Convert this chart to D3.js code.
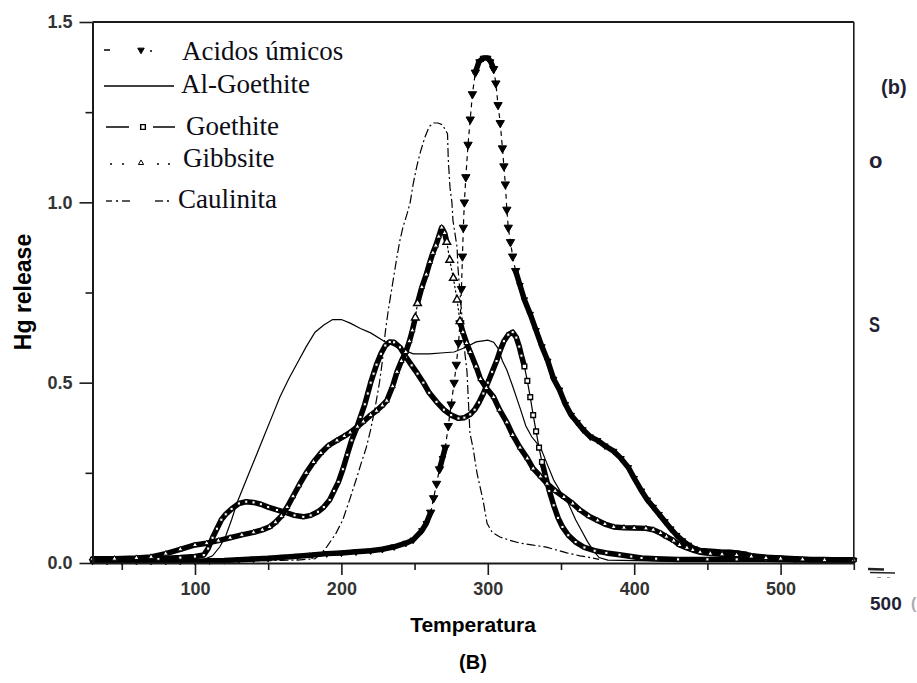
<!DOCTYPE html>
<html>
<head>
<meta charset="utf-8">
<script src="https://cdn.jsdelivr.net/npm/d3@7"></script>
<style>
  html, body { margin: 0; padding: 0; background: #ffffff; }
  svg { display: block; }
</style>
</head>
<body>
<svg id="chart" width="917" height="683"></svg>
<script>
// ---- Hg release vs temperature, one pair of arrays per sample ----
const acidosT = [30,40,50,60,70,80,90,100,110,120,130,140,150,160,170,180,190,200,210,220,228,236,244,249,255,258,261,263,265,267,269,271,273,275,277,278.5,280,281,282,282.7,283.3,284,285,286.5,288,289.5,291.5,294,297,300,302,304,305.5,307,308.5,310,311,312,313,314,315.5,317,319,322,325,329,333,337,341,345,349,353,357,361,365,370,375,380,386,391,396,400,405,409,413,417,421,425,429,433,437,441,445,450,455,460,465,470,475,480,490,500,510,520,530,540,550];
const acidosV = [0.005,0.005,0.005,0.005,0.005,0.005,0.005,0.005,0.006,0.007,0.009,0.011,0.013,0.016,0.019,0.022,0.026,0.028,0.031,0.034,0.038,0.045,0.055,0.064,0.09,0.11,0.14,0.18,0.22,0.26,0.29,0.32,0.38,0.44,0.5,0.55,0.61,0.665,0.76,0.85,0.93,1.0,1.07,1.16,1.23,1.3,1.36,1.39,1.40,1.40,1.39,1.37,1.33,1.27,1.22,1.15,1.10,1.05,0.98,0.93,0.89,0.85,0.81,0.77,0.73,0.69,0.645,0.60,0.56,0.51,0.48,0.44,0.41,0.39,0.37,0.35,0.34,0.325,0.31,0.29,0.265,0.235,0.20,0.175,0.155,0.135,0.115,0.095,0.077,0.062,0.05,0.04,0.035,0.033,0.032,0.03,0.03,0.028,0.025,0.02,0.016,0.014,0.012,0.01,0.01,0.008,0.008];

const alGoethiteT = [30,60,90,105,112,117,121,125,129,133,137,141,147,153,158,164,170,176,182,188,194,200,206,213,220,230,240,249,260,270,277,285,292,300,304,307,310,313,317,322,326,330,336,341,345,350,355,360,364,368,372,376,382,420,550];
const alGoethiteV = [0.004,0.004,0.005,0.008,0.02,0.045,0.075,0.12,0.17,0.21,0.25,0.29,0.35,0.41,0.46,0.51,0.555,0.6,0.64,0.66,0.675,0.675,0.665,0.65,0.638,0.613,0.595,0.58,0.58,0.583,0.585,0.598,0.613,0.618,0.612,0.595,0.56,0.535,0.49,0.43,0.38,0.35,0.32,0.27,0.23,0.195,0.165,0.12,0.09,0.06,0.035,0.015,0.008,0.005,0.005];

const goethiteT = [30,45,60,75,90,100,106,109,112,115,118,121,125,130,135,140,145,150,156,162,168,174,179,184,188,192,195,198,201,204,207,210,213,216,218,220,222,224,227,230,233,236,240,244,248,252,256,260,265,270,275,280,284,288,291,294,297,300,303,306,308.5,311,314,317,319.5,321.5,323,325,327,329,331,333,335,337,339.5,342,345,348,351,355,360,366,373,381,390,398,405,415,430,450,470,490,510,530,550];
const goethiteV = [0.01,0.01,0.012,0.012,0.015,0.018,0.022,0.04,0.07,0.095,0.12,0.135,0.15,0.165,0.17,0.168,0.163,0.155,0.147,0.14,0.132,0.128,0.132,0.142,0.155,0.175,0.2,0.225,0.26,0.3,0.34,0.37,0.405,0.44,0.47,0.5,0.525,0.55,0.58,0.603,0.613,0.612,0.598,0.572,0.548,0.525,0.5,0.472,0.447,0.425,0.41,0.401,0.403,0.412,0.425,0.445,0.47,0.5,0.53,0.56,0.59,0.615,0.633,0.64,0.625,0.6,0.575,0.545,0.505,0.46,0.41,0.365,0.32,0.28,0.24,0.2,0.16,0.125,0.1,0.077,0.058,0.043,0.034,0.028,0.023,0.018,0.014,0.012,0.01,0.01,0.01,0.01,0.008,0.008,0.008];

const gibbsiteT = [30,45,60,70,80,90,100,108,116,124,132,140,146,151,155,159,163,167,171,176,181,186,191,197,202,206,211,215,220,224,228,231,235,238,241,244,246.5,248.5,250.5,252,255,258,260.5,262.5,264.5,266.5,268.5,270.5,272,274,276.5,279,281,283,285.5,288,292,295,299,304,308,313,317,322,327,331,336,340.5,346,352,358,363,369,375,380,386,393,400,408,413,418,422,427,431,436,440,445,452,460,470,480,490,500,515,530,550];
const gibbsiteV = [0.012,0.012,0.014,0.017,0.026,0.038,0.05,0.055,0.062,0.07,0.078,0.085,0.092,0.1,0.113,0.13,0.155,0.185,0.215,0.25,0.28,0.305,0.325,0.34,0.352,0.362,0.378,0.392,0.41,0.422,0.437,0.45,0.49,0.53,0.56,0.585,0.615,0.645,0.68,0.72,0.765,0.8,0.835,0.86,0.88,0.905,0.93,0.915,0.89,0.84,0.79,0.73,0.67,0.64,0.61,0.585,0.545,0.51,0.485,0.46,0.425,0.39,0.355,0.32,0.29,0.262,0.24,0.22,0.2,0.183,0.165,0.147,0.13,0.118,0.108,0.1,0.098,0.097,0.096,0.092,0.083,0.073,0.062,0.05,0.042,0.036,0.03,0.026,0.024,0.022,0.018,0.014,0.012,0.01,0.008,0.008];

const caulinitaT = [30,60,100,140,170,182,187,190,196,201,206,210,213,217,220,223,226,228,230,232,234,236,238,240,242,245,247,249,251.5,254,257,260,263,266,269,272.5,273,274.2,275.5,276.2,279,279.6,282,284.4,285.8,287.8,289.9,292.6,296.7,299.5,303,308.3,315,322,330,340,347,354,363,370,376];
const caulinitaV = [0.004,0.004,0.005,0.006,0.008,0.012,0.03,0.045,0.08,0.12,0.18,0.23,0.27,0.32,0.37,0.43,0.5,0.56,0.64,0.7,0.75,0.8,0.85,0.895,0.93,0.97,1.0,1.05,1.1,1.14,1.18,1.21,1.22,1.22,1.215,1.19,1.12,1.04,1.0,0.95,0.876,0.82,0.7,0.58,0.53,0.36,0.32,0.25,0.175,0.11,0.085,0.072,0.063,0.055,0.05,0.044,0.036,0.028,0.02,0.015,0.01];

// ---- axis ticks and labels ----
const xMajorTicks = [100, 200, 300, 400, 500];
const xMinorTicks = [50, 150, 250, 350, 450, 550];
const yMajorTicks = [0, 0.5, 1.0, 1.5];
const yMinorTicks = [0.25, 0.75, 1.25];
const legendLabels = ["Acidos úmicos", "Al-Goethite", "Goethite", "Gibbsite", "Caulinita"];
const xTitle = "Temperatura";
const yTitle = "Hg release";
const panelTag = "(B)";

const SANS = "'Liberation Sans', Arial, Helvetica, sans-serif";
const SERIF = "'Liberation Serif', 'Times New Roman', serif";

const svg = d3.select("#chart");
const x = d3.scaleLinear().domain([30, 550]).range([92.5, 853.8]);
const y = d3.scaleLinear().domain([0, 1.5]).range([563, 22]);

const zip = (T, V) => T.map((t, i) => ({ t, v: V[i] }));

// marker shapes: full size on steep stretches, reduced inside the heavy bands
const shapes = {
  triDown: [d3.symbol().type(d3.symbolTriangle).size(30), d3.symbol().type(d3.symbolTriangle).size(18)],
  triUp: [d3.symbol().type(d3.symbolTriangle).size(26), d3.symbol().type(d3.symbolTriangle).size(12)],
  square: [d3.symbol().type(d3.symbolSquare).size(22), d3.symbol().type(d3.symbolSquare).size(10)]
};

// Series drawn as heavy marker bands; steep runs fall back to a thin line plus markers
const bandSeries = [
  { pts: zip(acidosT, acidosV), thinDash: "4,5", marker: "triDown" },
  { pts: zip(goethiteT, goethiteV), thinDash: null, marker: "square" },
  { pts: zip(gibbsiteT, gibbsiteV), thinDash: "1.5,3", marker: "triUp" }
];

const plot = svg.append("g");

// Thin line series
const line = d3.line().x(d => x(d.t)).y(d => y(d.v));
plot.append("path")
  .datum(zip(caulinitaT, caulinitaV))
  .attr("d", line)
  .attr("fill", "none").attr("stroke", "#000").attr("stroke-width", 1.2)
  .attr("stroke-dasharray", "9,3,2,3");
plot.append("path")
  .datum(zip(alGoethiteT, alGoethiteV))
  .attr("d", line)
  .attr("fill", "none").attr("stroke", "#000").attr("stroke-width", 1.2);

function splitRuns(pts) {
  const runs = [];
  let cur = null;
  for (let i = 0; i < pts.length - 1; i++) {
    const a = pts[i], b = pts[i + 1];
    const dx = Math.abs(x(b.t) - x(a.t));
    const dy = Math.abs(y(b.v) - y(a.v));
    const steep = dy > 4.8 * dx;
    if (!cur || cur.steep !== steep) {
      cur = { steep, pts: [a] };
      runs.push(cur);
    }
    cur.pts.push(b);
  }
  return runs;
}

function drawMarker(g, kind, px, py, small) {
  const sym = shapes[kind][small ? 1 : 0];
  if (kind === "triDown") {
    g.append("path").attr("d", sym())
      .attr("transform", `translate(${px},${py}) rotate(180)`)
      .attr("fill", "#000").attr("stroke", "#000").attr("stroke-width", 1);
  } else {
    g.append("path").attr("d", sym())
      .attr("transform", `translate(${px},${py})`)
      .attr("fill", "#fff").attr("stroke", "#000").attr("stroke-width", small ? 1 : 1.4);
  }
}

bandSeries.forEach(s => {
  const g = plot.append("g");
  const runs = splitRuns(s.pts);
  const steepPts = new Set();
  runs.forEach(r => {
    const p = g.append("path").datum(r.pts).attr("d", line)
      .attr("fill", "none").attr("stroke", "#000")
      .attr("stroke-linecap", "round").attr("stroke-linejoin", "round");
    if (r.steep) {
      p.attr("stroke-width", 1.2);
      if (s.thinDash) p.attr("stroke-dasharray", s.thinDash);
      r.pts.forEach(d => steepPts.add(d));
    } else {
      p.attr("stroke-width", 5.5);
    }
  });
  s.pts.forEach(d => drawMarker(g, s.marker, x(d.t), y(d.v), !steepPts.has(d)));
});

// ---- frame and axes ----
const frame = svg.append("g").attr("stroke", "#1a1a1a").attr("fill", "none");
frame.append("line").attr("x1", x(30)).attr("x2", x(550)).attr("y1", y(1.5)).attr("y2", y(1.5)).attr("stroke-width", 2);
frame.append("line").attr("x1", x(550)).attr("x2", x(550)).attr("y1", y(1.5)).attr("y2", y(0)).attr("stroke-width", 1.6);

function styleAxis(g) {
  g.select(".domain").attr("stroke", "#1a1a1a").attr("stroke-width", 2);
  g.selectAll(".tick line").attr("stroke", "#1a1a1a").attr("stroke-width", 1.6);
  g.selectAll(".tick text")
    .attr("font-family", SANS).attr("font-weight", "bold")
    .attr("font-size", 18).attr("fill", "#333");
}

const xAxisMajor = svg.append("g").attr("transform", `translate(0,${y(0)})`)
  .call(d3.axisBottom(x).tickValues(xMajorTicks).tickSize(12).tickSizeOuter(0).tickPadding(7).tickFormat(d3.format("d")));
styleAxis(xAxisMajor);
const xAxisMinor = svg.append("g").attr("transform", `translate(0,${y(0)})`)
  .call(d3.axisBottom(x).tickValues(xMinorTicks).tickSize(7).tickSizeOuter(0).tickFormat(() => ""));
styleAxis(xAxisMinor);
xAxisMinor.select(".domain").remove();

const yAxisMajor = svg.append("g").attr("transform", `translate(${x(30)},0)`)
  .call(d3.axisLeft(y).tickValues(yMajorTicks).tickSize(13).tickSizeOuter(0).tickPadding(7).tickFormat(d3.format(".1f")));
styleAxis(yAxisMajor);
const yAxisMinor = svg.append("g").attr("transform", `translate(${x(30)},0)`)
  .call(d3.axisLeft(y).tickValues(yMinorTicks).tickSize(7).tickSizeOuter(0).tickFormat(() => ""));
styleAxis(yAxisMinor);
yAxisMinor.select(".domain").remove();

// ---- axis titles ----
svg.append("text").text(xTitle)
  .attr("x", 473).attr("y", 632).attr("text-anchor", "middle")
  .attr("font-family", SANS).attr("font-weight", "bold").attr("font-size", 21).attr("fill", "#000");
svg.append("text").text(panelTag)
  .attr("x", 473).attr("y", 669).attr("text-anchor", "middle")
  .attr("font-family", SANS).attr("font-weight", "bold").attr("font-size", 20).attr("fill", "#000");
svg.append("text").text(yTitle)
  .attr("transform", "translate(31,292) rotate(-90)").attr("text-anchor", "middle")
  .attr("font-family", SANS).attr("font-weight", "bold").attr("font-size", 23).attr("fill", "#000");

// ---- legend ----
const lg = svg.append("g");
const rowY = [50, 86, 127, 163, 201];
const textX = [182, 181, 186, 183, 178];
const textY = [60, 93, 135, 167, 208];
legendLabels.forEach((lab, i) => {
  lg.append("text").text(lab)
    .attr("x", textX[i]).attr("y", textY[i])
    .attr("font-family", SERIF).attr("font-size", 27).attr("fill", "#0d0d16");
});
const seg = (x1, x2, yy, w) => lg.append("line").attr("x1", x1).attr("x2", x2)
  .attr("y1", yy).attr("y2", yy).attr("stroke", "#000").attr("stroke-width", w || 1.3);
const dot = (cx, cy) => lg.append("circle").attr("cx", cx).attr("cy", cy).attr("r", 1).attr("fill", "#000");
// Acidos úmicos
seg(104, 110, rowY[0], 1.5);
drawMarker(lg, "triDown", 141, rowY[0], true);
dot(151, rowY[0] + 1);
// Al-Goethite
seg(104, 174, rowY[1], 1.4);
// Goethite
seg(106, 129, rowY[2], 1.5);
drawMarker(lg, "square", 143, rowY[2], false);
seg(153, 175, rowY[2], 1.5);
// Gibbsite
dot(111, rowY[3] + 1); dot(123, rowY[3] + 1);
drawMarker(lg, "triUp", 141, rowY[3], true);
dot(158, rowY[3] + 1); dot(169, rowY[3] + 1);
// Caulinita
seg(106, 112, rowY[4], 1.3);
dot(117, rowY[4]);
seg(122, 130, rowY[4], 1.3);
seg(155, 163, rowY[4], 1.3);
dot(168, rowY[4]);

// ---- marks at the right margin ----
const side = svg.append("g").attr("font-family", SANS).attr("font-weight", "bold").attr("fill", "#221f36");
side.append("text").text("(b)").attr("x", 881).attr("y", 94).attr("font-size", 20);
side.append("text").text("o").attr("x", 869).attr("y", 168).attr("font-size", 22);
side.append("text").text("S").attr("x", 869).attr("y", 332).attr("font-size", 22)
  .attr("textLength", 11).attr("lengthAdjust", "spacingAndGlyphs");
side.append("text").text("500").attr("x", 870).attr("y", 610).attr("font-size", 19);
side.append("text").text("(").attr("x", 911).attr("y", 609).attr("font-size", 16).attr("fill", "#aaa");
const scr = svg.append("g").attr("stroke", "#222");
scr.append("line").attr("x1", 868).attr("x2", 884).attr("y1", 569).attr("y2", 569.5).attr("stroke-width", 2.5);
scr.append("line").attr("x1", 870).attr("x2", 895).attr("y1", 572.5).attr("y2", 573).attr("stroke-width", 1.4);
scr.append("line").attr("x1", 877).attr("x2", 881).attr("y1", 577.5).attr("y2", 577.5).attr("stroke-width", 1).attr("stroke", "#999");
scr.append("line").attr("x1", 887).attr("x2", 890).attr("y1", 577.5).attr("y2", 577.5).attr("stroke-width", 1).attr("stroke", "#999");
</script>
</body>
</html>
